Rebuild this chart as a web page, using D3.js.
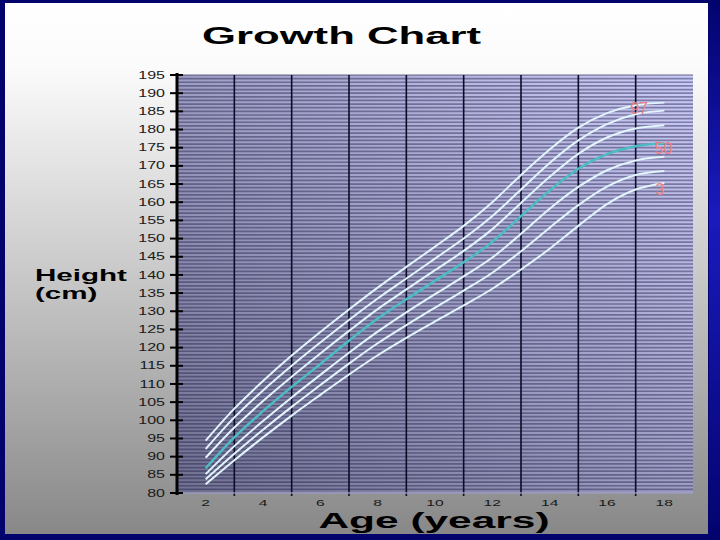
<!DOCTYPE html>
<html><head><meta charset="utf-8">
<script src="https://cdn.jsdelivr.net/npm/d3@7"></script>
<style>html,body{margin:0;padding:0;background:#03036e;}svg{display:block;}</style>
</head><body>
<svg id="chart" width="720" height="540"></svg>
<script>
// ---- data ----
const ages = [2,3,4,5,6,7,8,9,10,11,12,13,14,15,16,17,18];
const p97 = [94.4,103.2,110.8,117.8,124.3,130.5,136.5,142.2,147.8,153.5,160.0,167.5,174.5,180.5,184.5,186.7,187.4];
const p90 = [92.1,100.8,108.2,115.0,121.4,127.6,133.5,139.0,144.5,150.0,156.2,163.5,170.8,177.0,181.5,184.2,185.2];
const p75 = [89.7,98.0,105.3,112.0,118.4,124.6,130.6,136.0,141.3,146.6,152.6,159.8,167.0,173.3,177.8,180.3,181.2];
const p50 = [86.8,95.3,102.5,109.2,115.5,121.9,128.0,133.3,138.4,143.5,149.1,156.2,163.2,169.2,173.2,175.4,176.2];
const p25 = [85.2,92.9,99.8,106.3,112.5,118.6,124.4,129.7,134.7,139.6,144.8,151.3,158.2,164.2,168.8,171.5,172.5];
const p10 = [83.8,90.8,97.4,103.7,109.7,115.6,121.2,126.2,131.0,135.7,140.6,146.5,153.0,159.2,164.3,167.5,168.6];
const p3  = [82.4,89.0,95.3,101.3,107.0,112.6,117.9,122.7,127.2,131.6,136.2,141.5,147.2,153.5,159.5,163.5,165.3];
const yTicks = [80,85,90,95,100,105,110,115,120,125,130,135,140,145,150,155,160,165,170,175,180,185,190,195];
const xTickLabels = [2,4,6,8,10,12,14,16,18];
const xGridAges = [3,5,7,9,11,13,15,17];
const curveLabels = ["97","50","3"];
const title = "Growth Chart";
const yTitle = ["Height","(cm)"];
const xTitle = "Age (years)";

// ---- drawing ----
const svg = d3.select("#chart");
const defs = svg.append("defs");

const slideGrad = defs.append("linearGradient").attr("id","slide").attr("x1",0).attr("y1",0).attr("x2",0).attr("y2",1);
slideGrad.append("stop").attr("offset","0").attr("stop-color","#ffffff");
slideGrad.append("stop").attr("offset","0.12").attr("stop-color","#fbfbfb");
slideGrad.append("stop").attr("offset","0.5").attr("stop-color","#cacaca");
slideGrad.append("stop").attr("offset","1").attr("stop-color","#888888");

const plotGrad = defs.append("linearGradient").attr("id","plotbg").attr("x1",0).attr("y1",1).attr("x2",1).attr("y2",0);
plotGrad.append("stop").attr("offset","0").attr("stop-color","#70708f");
plotGrad.append("stop").attr("offset","1").attr("stop-color","#ccccf8");

const sideGrad = defs.append("linearGradient").attr("id","side").attr("x1",0).attr("y1",0).attr("x2",0).attr("y2",1);
sideGrad.append("stop").attr("offset","0").attr("stop-color","#03036e");
sideGrad.append("stop").attr("offset","0.4").attr("stop-color","#1a1abf");
sideGrad.append("stop").attr("offset","1").attr("stop-color","#03036e");

svg.append("rect").attr("width",720).attr("height",540).attr("fill","#03036e");
svg.append("rect").attr("x",709).attr("y",0).attr("width",11).attr("height",540).attr("fill","url(#side)");
svg.append("rect").attr("x",5).attr("y",3).attr("width",703).attr("height",531).attr("fill","url(#slide)");

const x = d3.scaleLinear().domain([1,19]).range([177,693]);
const y = d3.scaleLinear().domain([80,195]).range([493,75]);

// plot background
svg.append("rect").attr("x",x(1)).attr("y",y(195)).attr("width",x(19)-x(1)).attr("height",y(80)-y(195)).attr("fill","url(#plotbg)");

// minor horizontal gridlines every 1 cm
svg.append("g").selectAll("line").data(d3.range(80,196,1)).join("line")
  .attr("x1",x(1)).attr("x2",x(19)).attr("y1",d=>y(d)).attr("y2",d=>y(d))
  .attr("stroke","#1e1e4a").attr("stroke-opacity",0.44).attr("stroke-width",1.7);

// vertical gridlines at odd ages
svg.append("g").selectAll("line").data(xGridAges).join("line")
  .attr("x1",d=>x(d)).attr("x2",d=>x(d)).attr("y1",y(195)).attr("y2",y(80)+3)
  .attr("stroke","#0c0c28").attr("stroke-width",1.6);

// bottom border
svg.append("line").attr("x1",x(1)).attr("x2",x(19)).attr("y1",y(80)).attr("y2",y(80)).attr("stroke","#c8c8ee").attr("stroke-width",1);

// left axis
svg.append("line").attr("x1",x(1)).attr("x2",x(1)).attr("y1",y(195)-2).attr("y2",y(80)+2).attr("stroke","#000").attr("stroke-width",3);
svg.append("g").selectAll("line").data(yTicks).join("line")
  .attr("x1",x(1)-7).attr("x2",x(1)+6).attr("y1",d=>y(d)).attr("y2",d=>y(d))
  .attr("stroke","#000").attr("stroke-width",2);

const sx = 1.6;
svg.append("g").selectAll("text").data(yTicks).join("text")
  .attr("transform",d=>`translate(${x(1)-12},${y(d)+3.6}) scale(${sx},1)`)
  .attr("text-anchor","end").attr("font-family","Liberation Sans, Arial, sans-serif")
  .attr("font-size",10).attr("fill","#1a1a1a").text(d=>d);

svg.append("g").selectAll("text").data(xTickLabels).join("text")
  .attr("transform",d=>`translate(${x(d)},${505.5}) scale(1.65,1)`)
  .attr("text-anchor","middle").attr("font-family","Liberation Sans, Arial, sans-serif")
  .attr("font-size",9.5).attr("fill","#1a1a1a").text(d=>d);

// percentile curves
const series = [p3,p10,p25,p50,p75,p90,p97];
const line = d3.line().x((d,i)=>x(ages[i])).y(d=>y(d)).curve(d3.curveMonotoneX);
svg.append("g").selectAll("path").data(series).join("path")
  .attr("d",line).attr("fill","none")
  .attr("stroke",(d,i)=> i===3 ? "#4cbcc4" : "#e2f4fc")
  .attr("stroke-width",(d,i)=> i===3 ? 2.4 : 2);

// curve labels, placed near the end of their series
const labelled = [p97, p50, p3];
const lblAge = [17.12, 17.97, 17.85];
const lblDrop = [3.1, 2.9, 3.3];
svg.append("g").selectAll("text").data(curveLabels).join("text")
  .attr("x",(d,i)=>x(lblAge[i])).attr("y",(d,i)=>y(labelled[i][labelled[i].length-1]-lblDrop[i]))
  .attr("text-anchor","middle").attr("font-family","Liberation Sans, Arial, sans-serif")
  .attr("font-size",16).attr("fill","#ee8080").text(d=>d);

// titles
svg.append("text").attr("transform","translate(341.5,44) scale(1.82,1)")
  .attr("text-anchor","middle").attr("font-family","Liberation Sans, Arial, sans-serif")
  .attr("font-weight","bold").attr("font-size",24).attr("fill","#000").text(title);

svg.append("text").attr("transform","translate(434,528) scale(1.93,1)")
  .attr("text-anchor","middle").attr("font-family","Liberation Sans, Arial, sans-serif")
  .attr("font-weight","bold").attr("font-size",22).attr("fill","#000").text(xTitle);

svg.append("g").selectAll("text").data(yTitle).join("text")
  .attr("transform",(d,i)=>`translate(35,${281 + i*17.5}) scale(1.74,1)`)
  .attr("text-anchor","start").attr("font-family","Liberation Sans, Arial, sans-serif")
  .attr("font-weight","bold").attr("font-size",17).attr("fill","#000").text(d=>d);
</script>
</body></html>
